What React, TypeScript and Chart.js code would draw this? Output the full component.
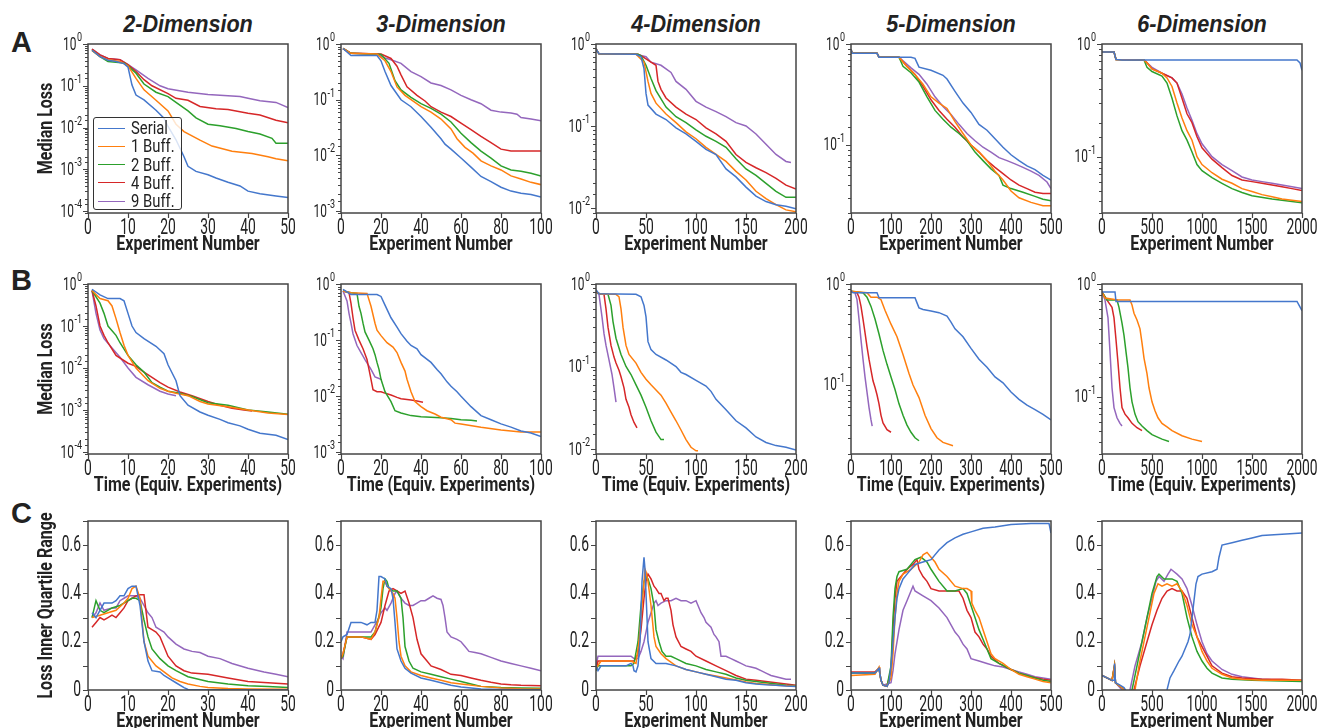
import React, { useEffect, useRef } from 'react';
import { Chart, registerables } from 'chart.js';
Chart.register(...registerables);

const BASE_FONT = "Roboto, 'Liberation Sans', 'DejaVu Sans', sans-serif";
const TITLE_FONT = "'Liberation Sans', Arial, sans-serif";

type Pt = [number, number];

const SERIES_LABELS = ['Serial', '1 Buff.', '2 Buff.', '4 Buff.', '9 Buff.'];
const SERIES_COLORS = ['#4477cc', '#ff7f0e', '#2ca02c', '#d62728', '#9467bd'];
const DIMENSIONS = ['2-Dimension', '3-Dimension', '4-Dimension', '5-Dimension', '6-Dimension'];
const ROW_LETTERS = ['A', 'B', 'C'];
const X_MAX = [50, 100, 200, 500, 2000];
const X_STEP = [10, 20, 50, 100, 500];
const LOG_MIN_A = [0.00009, 0.00093, 0.0087, 0.0212, 0.0316];
const LOG_MIN_B = [0.00009, 0.00093, 0.0087, 0.0207, 0.031];
const IQR_MAX = 0.7;
const IQR_STEP = 0.1;
const X_TITLES = ['Experiment Number', 'Time (Equiv. Experiments)', 'Experiment Number'];
const Y_TITLES = ['Median Loss', 'Median Loss', 'Loss Inner Quartile Range'];

// ---------- Row A: median loss vs experiment number ----------
const a1Serial: Pt[] = [[1,0.71],[3,0.5],[5,0.41],[7,0.38],[9,0.34],[10,0.28],[11,0.104],[12,0.06],[14,0.046],[17,0.026],[19,0.0167],[20,0.0106],[22,0.0051],[24,0.002],[25,0.00118],[27,0.00089],[30,0.00074],[32,0.00062],[35,0.00049],[38,0.0004],[40,0.0003],[43,0.00026],[47,0.00023],[50,0.00021]];
const a1Buff1: Pt[] = [[1,0.7],[3,0.5],[5,0.42],[8,0.38],[10,0.3],[12,0.15],[14,0.08],[17,0.045],[20,0.025],[22,0.012],[24,0.008],[28,0.005],[31,0.0036],[36,0.0027],[41,0.0024],[45,0.002],[47,0.0018],[50,0.0016]];
const a1Buff2: Pt[] = [[1,0.7],[3,0.5],[5,0.38],[9,0.35],[10,0.3],[12,0.2],[14,0.11],[17,0.07],[20,0.055],[22,0.04],[25,0.025],[27,0.017],[30,0.012],[33,0.011],[37,0.0095],[40,0.008],[43,0.007],[46,0.0055],[47,0.0042],[50,0.0042]];
const a1Buff4: Pt[] = [[1,0.75],[3,0.55],[5,0.45],[8,0.42],[10,0.32],[12,0.22],[14,0.14],[16,0.1],[20,0.065],[22,0.05],[25,0.045],[28,0.032],[32,0.028],[35,0.027],[40,0.022],[43,0.02],[47,0.015],[50,0.013]];
const a1Buff9: Pt[] = [[1,0.75],[3,0.55],[5,0.45],[8,0.42],[10,0.32],[12,0.24],[15,0.15],[18,0.1],[20,0.085],[25,0.07],[30,0.062],[35,0.058],[38,0.055],[40,0.05],[43,0.044],[47,0.04],[50,0.03]];

const a2Serial: Pt[] = [[1,0.83],[5,0.62],[18,0.62],[20,0.5],[22,0.32],[25,0.18],[30,0.1],[35,0.075],[40,0.05],[45,0.032],[50,0.02],[52,0.016],[55,0.013],[60,0.009],[65,0.0062],[70,0.0042],[75,0.0034],[80,0.0027],[85,0.0023],[90,0.0021],[95,0.002],[100,0.0018]];
const a2Buff1: Pt[] = [[1,0.83],[5,0.68],[18,0.66],[22,0.5],[25,0.32],[28,0.17],[32,0.12],[40,0.075],[45,0.06],[50,0.045],[55,0.03],[58,0.02],[62,0.014],[66,0.011],[70,0.008],[75,0.0065],[80,0.0055],[85,0.0043],[90,0.0038],[95,0.0033],[100,0.003]];
const a2Buff2: Pt[] = [[1,0.83],[5,0.68],[20,0.65],[24,0.45],[27,0.22],[30,0.15],[35,0.11],[40,0.085],[45,0.07],[50,0.055],[55,0.04],[60,0.025],[65,0.017],[70,0.012],[75,0.009],[80,0.0065],[85,0.0055],[90,0.0052],[95,0.0048],[100,0.0043]];
const a2Buff4: Pt[] = [[1,0.83],[5,0.68],[20,0.66],[25,0.55],[28,0.4],[30,0.28],[33,0.17],[38,0.12],[42,0.095],[45,0.075],[50,0.06],[55,0.05],[60,0.038],[65,0.029],[70,0.022],[75,0.017],[80,0.013],[85,0.012],[90,0.012],[100,0.012]];
const a2Buff9: Pt[] = [[1,0.83],[5,0.68],[18,0.66],[22,0.56],[25,0.52],[30,0.45],[35,0.32],[40,0.26],[45,0.2],[50,0.18],[55,0.15],[60,0.12],[65,0.1],[70,0.085],[75,0.065],[80,0.06],[85,0.058],[88,0.055],[90,0.048],[95,0.045],[100,0.042]];

const a3Serial: Pt[] = [[0,0.87],[3,0.76],[40,0.75],[45,0.7],[48,0.5],[50,0.25],[52,0.18],[60,0.14],[70,0.12],[80,0.095],[90,0.08],[100,0.065],[110,0.052],[120,0.045],[130,0.03],[140,0.024],[150,0.018],[160,0.014],[170,0.012],[180,0.011],[190,0.0105],[200,0.0098]];
const a3Buff1: Pt[] = [[0,0.87],[3,0.76],[40,0.75],[48,0.6],[52,0.35],[55,0.25],[60,0.19],[70,0.14],[80,0.11],[90,0.085],[100,0.07],[110,0.055],[120,0.045],[130,0.037],[140,0.028],[150,0.022],[160,0.016],[170,0.013],[180,0.011],[190,0.0095],[200,0.009]];
const a3Buff2: Pt[] = [[0,0.87],[3,0.76],[42,0.75],[45,0.72],[50,0.55],[55,0.38],[60,0.27],[70,0.17],[80,0.13],[90,0.11],[100,0.09],[110,0.075],[120,0.065],[130,0.055],[140,0.04],[150,0.03],[160,0.025],[170,0.02],[180,0.016],[190,0.0135],[200,0.0135]];
const a3Buff4: Pt[] = [[0,0.87],[3,0.76],[42,0.75],[45,0.72],[55,0.6],[60,0.55],[62,0.35],[65,0.28],[70,0.22],[80,0.17],[90,0.14],[100,0.12],[110,0.095],[120,0.08],[130,0.065],[140,0.045],[150,0.036],[160,0.031],[170,0.027],[180,0.023],[190,0.019],[200,0.017]];
const a3Buff9: Pt[] = [[0,0.87],[3,0.76],[40,0.75],[50,0.7],[55,0.6],[65,0.55],[75,0.45],[80,0.35],[90,0.28],[100,0.2],[110,0.17],[120,0.15],[130,0.13],[140,0.11],[150,0.1],[160,0.08],[170,0.06],[180,0.045],[190,0.037],[195,0.036]];

const a4Serial: Pt[] = [[0,0.88],[3,0.81],[65,0.81],[70,0.74],[150,0.74],[160,0.72],[170,0.59],[200,0.55],[230,0.49],[240,0.45],[260,0.34],[280,0.26],[300,0.21],[320,0.16],[340,0.14],[360,0.115],[380,0.095],[400,0.08],[420,0.07],[440,0.062],[460,0.057],[480,0.05],[500,0.045]];
const a4Buff1: Pt[] = [[0,0.88],[3,0.81],[65,0.81],[70,0.74],[120,0.74],[140,0.6],[160,0.5],[180,0.4],[200,0.3],[220,0.26],[240,0.23],[260,0.17],[280,0.13],[300,0.1],[320,0.085],[340,0.07],[360,0.055],[380,0.045],[400,0.035],[420,0.03],[450,0.027],[480,0.025],[500,0.025]];
const a4Buff2: Pt[] = [[0,0.88],[3,0.81],[65,0.81],[70,0.74],[120,0.74],[130,0.6],[150,0.52],[170,0.42],[190,0.3],[210,0.22],[230,0.18],[250,0.15],[270,0.13],[290,0.11],[310,0.085],[330,0.07],[350,0.058],[370,0.05],[380,0.04],[400,0.037],[430,0.034],[460,0.031],[480,0.029],[500,0.028]];
const a4Buff4: Pt[] = [[0,0.88],[3,0.81],[65,0.81],[70,0.74],[120,0.74],[140,0.6],[160,0.5],[180,0.38],[200,0.28],[220,0.22],[240,0.18],[260,0.15],[280,0.12],[300,0.1],[320,0.085],[340,0.07],[360,0.06],[380,0.052],[400,0.045],[420,0.04],[440,0.037],[460,0.034],[480,0.033],[500,0.033]];
const a4Buff9: Pt[] = [[0,0.88],[3,0.81],[65,0.81],[70,0.74],[120,0.74],[150,0.58],[170,0.5],[190,0.4],[210,0.3],[230,0.24],[250,0.2],[270,0.16],[290,0.13],[310,0.11],[330,0.095],[350,0.085],[370,0.075],[390,0.07],[410,0.065],[430,0.06],[450,0.055],[470,0.05],[490,0.043],[500,0.037]];

const a5Serial: Pt[] = [[0,0.85],[120,0.85],[140,0.73],[200,0.72],[1950,0.72],[1980,0.68],[2000,0.585]];
const a5Buff1: Pt[] = [[0,0.85],[120,0.85],[140,0.73],[420,0.72],[450,0.68],[500,0.6],[600,0.55],[650,0.5],[700,0.42],[750,0.3],[800,0.22],[850,0.17],[900,0.14],[950,0.1],[1000,0.085],[1100,0.072],[1200,0.063],[1300,0.058],[1400,0.052],[1500,0.049],[1600,0.046],[1700,0.044],[1800,0.042],[1900,0.041],[2000,0.04]];
const a5Buff2: Pt[] = [[0,0.85],[120,0.85],[140,0.73],[420,0.72],[450,0.62],[500,0.57],[600,0.52],[650,0.45],[700,0.33],[750,0.23],[800,0.17],[850,0.14],[900,0.11],[950,0.085],[1000,0.075],[1100,0.065],[1200,0.058],[1300,0.052],[1400,0.048],[1500,0.045],[1700,0.042],[2000,0.039]];
const a5Buff4: Pt[] = [[0,0.85],[120,0.85],[140,0.73],[420,0.72],[450,0.68],[500,0.6],[600,0.55],[700,0.5],[750,0.45],[800,0.33],[850,0.24],[900,0.2],[950,0.15],[1000,0.12],[1100,0.095],[1200,0.08],[1300,0.068],[1400,0.062],[1500,0.06],[1600,0.058],[1700,0.056],[1800,0.054],[1900,0.052],[2000,0.05]];
const a5Buff9: Pt[] = [[0,0.85],[120,0.85],[140,0.73],[420,0.72],[500,0.62],[600,0.55],[700,0.5],[750,0.45],[800,0.36],[850,0.27],[900,0.21],[950,0.16],[1000,0.13],[1100,0.1],[1200,0.085],[1300,0.075],[1400,0.066],[1500,0.062],[1600,0.06],[1700,0.058],[1800,0.056],[1900,0.054],[2000,0.052]];

// ---------- Row B: median loss vs time ----------
const b1Serial: Pt[] = [[1,0.75],[3,0.55],[5,0.45],[8,0.45],[9,0.4],[10,0.2],[11,0.1],[12,0.07],[14,0.05],[17,0.033],[19,0.022],[20,0.012],[22,0.005],[23,0.0022],[25,0.0013],[28,0.0009],[30,0.00075],[33,0.0006],[35,0.0005],[38,0.00042],[40,0.00035],[43,0.00028],[47,0.00025],[50,0.0002]];
const b1Buff1: Pt[] = [[1,0.7],[3,0.45],[5,0.4],[6,0.3],[7,0.15],[8,0.07],[9,0.035],[10,0.02],[12,0.01],[15,0.005],[18,0.0033],[20,0.0028],[22,0.0025],[25,0.0022],[28,0.0016],[30,0.0014],[35,0.0012],[40,0.001],[45,0.00085],[50,0.00078]];
const b1Buff2: Pt[] = [[1,0.7],[3,0.35],[4,0.2],[5,0.1],[7,0.06],[8,0.04],[10,0.02],[12,0.012],[14,0.008],[16,0.0045],[18,0.0035],[20,0.0028],[23,0.0025],[26,0.0021],[30,0.0015],[35,0.0013],[40,0.001],[45,0.0009],[50,0.0008]];
const b1Buff4: Pt[] = [[1,0.7],[2,0.3],[3,0.1],[4,0.06],[5,0.04],[7,0.02],[10,0.013],[12,0.011],[14,0.008],[16,0.006],[18,0.0045],[20,0.0035],[23,0.0027],[26,0.0022],[30,0.0016],[33,0.0013],[36,0.0011],[39,0.001],[41,0.00095]];
const b1Buff9: Pt[] = [[1,0.7],[2,0.2],[3,0.08],[4,0.05],[6,0.03],[8,0.018],[10,0.01],[12,0.006],[15,0.004],[18,0.0028],[20,0.0024],[22,0.0022]];

const b2Serial: Pt[] = [[1,0.8],[5,0.65],[18,0.65],[20,0.6],[22,0.42],[25,0.25],[28,0.17],[30,0.13],[33,0.095],[35,0.08],[38,0.07],[40,0.055],[45,0.04],[48,0.03],[50,0.025],[53,0.018],[55,0.015],[58,0.012],[60,0.01],[65,0.0065],[70,0.0045],[75,0.0038],[80,0.0032],[85,0.0028],[90,0.0024],[95,0.0022],[100,0.0019]];
const b2Buff1: Pt[] = [[1,0.75],[5,0.7],[13,0.68],[15,0.4],[17,0.2],[18,0.15],[20,0.12],[23,0.09],[26,0.075],[28,0.06],[30,0.04],[32,0.028],[33,0.02],[35,0.012],[37,0.008],[40,0.0065],[43,0.0055],[47,0.0048],[50,0.0042],[55,0.0038],[57,0.0033],[60,0.0032],[70,0.0028],[80,0.0025],[90,0.0023],[100,0.0023]];
const b2Buff2: Pt[] = [[1,0.75],[5,0.7],[8,0.68],[9,0.4],[10,0.3],[11,0.2],[12,0.14],[14,0.1],[16,0.07],[17,0.055],[18,0.04],[19,0.03],[20,0.02],[22,0.012],[25,0.008],[27,0.0055],[30,0.005],[35,0.0045],[40,0.0043],[50,0.0041],[55,0.004],[60,0.0038],[65,0.0037],[68,0.0036]];
const b2Buff4: Pt[] = [[1,0.75],[4,0.7],[5,0.45],[6,0.25],[7,0.15],[9,0.1],[11,0.07],[13,0.045],[14,0.03],[15,0.02],[16,0.013],[18,0.012],[20,0.012],[23,0.011],[25,0.0105],[28,0.0095],[30,0.009],[35,0.0085],[38,0.0082],[41,0.0078]];
const b2Buff9: Pt[] = [[1,0.75],[3,0.5],[4,0.3],[5,0.2],[6,0.13],[8,0.08],[10,0.06],[12,0.045],[15,0.03],[17,0.022],[20,0.02]];

const b3Serial: Pt[] = [[0,0.85],[3,0.76],[40,0.75],[45,0.7],[48,0.55],[50,0.4],[52,0.2],[55,0.16],[60,0.14],[70,0.12],[80,0.1],[85,0.085],[90,0.08],[100,0.068],[110,0.058],[115,0.05],[120,0.04],[130,0.03],[140,0.022],[150,0.018],[160,0.014],[170,0.012],[180,0.011],[190,0.0105],[200,0.0097]];
const b3Buff1: Pt[] = [[0,0.8],[5,0.75],[20,0.75],[23,0.7],[25,0.5],[27,0.3],[30,0.18],[33,0.14],[40,0.11],[45,0.085],[50,0.07],[55,0.06],[60,0.052],[65,0.045],[70,0.036],[75,0.028],[80,0.022],[85,0.017],[90,0.013],[95,0.0105],[100,0.0095],[102,0.0095]];
const b3Buff2: Pt[] = [[0,0.8],[5,0.75],[12,0.75],[15,0.55],[17,0.35],[20,0.22],[25,0.14],[30,0.1],[35,0.08],[40,0.06],[45,0.045],[50,0.032],[55,0.022],[60,0.016],[65,0.013],[68,0.013]];
const b3Buff4: Pt[] = [[0,0.8],[5,0.75],[8,0.75],[10,0.5],[12,0.3],[15,0.18],[18,0.13],[20,0.11],[23,0.09],[25,0.075],[28,0.055],[30,0.04],[33,0.032],[35,0.026],[38,0.021],[41,0.018]];
const b3Buff9: Pt[] = [[0,0.8],[3,0.75],[6,0.4],[8,0.25],[10,0.18],[13,0.12],[16,0.08],[18,0.055],[20,0.037]];

const b4Serial: Pt[] = [[0,0.85],[5,0.82],[65,0.82],[70,0.73],[160,0.73],[165,0.65],[170,0.58],[180,0.56],[200,0.54],[220,0.52],[240,0.48],[250,0.42],[260,0.36],[280,0.3],[300,0.23],[320,0.18],[340,0.15],[360,0.12],[380,0.105],[400,0.085],[420,0.072],[440,0.063],[460,0.057],[480,0.051],[500,0.045]];
const b4Buff1: Pt[] = [[0,0.85],[40,0.82],[50,0.74],[65,0.74],[75,0.7],[85,0.55],[100,0.4],[115,0.3],[130,0.2],[145,0.13],[155,0.1],[170,0.075],[185,0.05],[200,0.037],[215,0.03],[230,0.027],[255,0.025]];
const b4Buff2: Pt[] = [[0,0.85],[30,0.82],[40,0.74],[50,0.6],[60,0.45],[70,0.32],[80,0.22],[90,0.16],[100,0.12],[110,0.09],[120,0.065],[130,0.05],[140,0.04],[150,0.034],[160,0.03],[170,0.028]];
const b4Buff4: Pt[] = [[0,0.85],[15,0.82],[20,0.74],[25,0.6],[30,0.45],[35,0.33],[40,0.24],[45,0.18],[50,0.14],[55,0.11],[60,0.095],[65,0.08],[70,0.065],[75,0.05],[80,0.042],[90,0.036],[100,0.034]];
const b4Buff9: Pt[] = [[0,0.85],[10,0.82],[15,0.7],[20,0.45],[25,0.28],[30,0.18],[35,0.12],[40,0.085],[45,0.06],[50,0.045],[53,0.039]];

const b5Serial: Pt[] = [[0,0.85],[130,0.85],[140,0.7],[1950,0.7],[1970,0.65],[2000,0.58]];
const b5Buff1: Pt[] = [[0,0.85],[30,0.75],[160,0.72],[280,0.72],[300,0.65],[320,0.55],[350,0.48],[380,0.4],[400,0.3],[420,0.22],[450,0.16],[470,0.12],[500,0.09],[530,0.075],[560,0.065],[600,0.058],[650,0.054],[700,0.05],[800,0.045],[900,0.042],[1000,0.04]];
const b5Buff2: Pt[] = [[0,0.85],[50,0.72],[150,0.72],[170,0.62],[200,0.45],[220,0.35],[240,0.25],[260,0.18],[280,0.12],[300,0.09],[330,0.07],[360,0.06],[400,0.055],[450,0.05],[500,0.046],[600,0.042],[670,0.04]];
const b5Buff4: Pt[] = [[0,0.85],[50,0.72],[100,0.62],[120,0.5],[140,0.32],[160,0.2],[180,0.12],[200,0.08],[230,0.07],[260,0.065],[300,0.058],[350,0.053],[400,0.05]];
const b5Buff9: Pt[] = [[0,0.85],[30,0.72],[60,0.5],[80,0.25],[100,0.12],[120,0.08],[150,0.065],[180,0.058],[200,0.055]];

// ---------- Row C: loss inner quartile range ----------
const c1Serial: Pt[] = [[1,0.32],[2,0.3],[3,0.33],[4,0.36],[6,0.36],[7,0.37],[8,0.39],[9,0.39],[10,0.42],[11,0.43],[12,0.43],[13,0.35],[14,0.2],[15,0.12],[16,0.08],[18,0.075],[19,0.06],[20,0.05],[22,0.03],[24,0.01],[25,0.002],[30,0.001],[50,0]];
const c1Buff1: Pt[] = [[1,0.3],[3,0.31],[5,0.32],[7,0.33],[9,0.36],[10,0.38],[11,0.42],[12,0.43],[13,0.38],[14,0.2],[15,0.14],[17,0.1],[19,0.075],[21,0.05],[23,0.035],[25,0.025],[28,0.015],[30,0.01],[35,0.006],[40,0.004],[50,0.003]];
const c1Buff2: Pt[] = [[1,0.3],[2,0.37],[3,0.33],[4,0.32],[6,0.34],[8,0.35],[10,0.37],[11,0.38],[12,0.38],[13,0.37],[14,0.29],[15,0.22],[16,0.17],[18,0.13],[20,0.1],[22,0.08],[25,0.055],[30,0.035],[35,0.025],[40,0.018],[45,0.014],[50,0.01]];
const c1Buff4: Pt[] = [[1,0.26],[2,0.28],[3,0.3],[4,0.29],[5,0.3],[6,0.31],[7,0.3],[8,0.32],[9,0.34],[10,0.37],[11,0.38],[12,0.39],[13,0.395],[14,0.395],[15,0.26],[16,0.25],[17,0.24],[18,0.22],[19,0.18],[20,0.14],[22,0.1],[24,0.08],[26,0.07],[30,0.065],[35,0.05],[40,0.035],[45,0.03],[50,0.025]];
const c1Buff9: Pt[] = [[1,0.3],[2,0.32],[3,0.36],[4,0.33],[6,0.34],[7,0.34],[8,0.37],[9,0.38],[10,0.39],[12,0.39],[13,0.38],[14,0.35],[15,0.32],[16,0.3],[17,0.26],[18,0.25],[19,0.24],[20,0.22],[22,0.19],[24,0.17],[26,0.16],[28,0.155],[30,0.14],[33,0.13],[36,0.11],[40,0.09],[44,0.075],[47,0.065],[50,0.055]];

const c2Serial: Pt[] = [[0,0.2],[1,0.22],[3,0.23],[5,0.28],[10,0.28],[13,0.27],[15,0.28],[17,0.28],[18,0.33],[19,0.47],[20,0.47],[22,0.46],[23,0.43],[25,0.42],[26,0.38],[27,0.28],[28,0.17],[30,0.12],[32,0.09],[35,0.07],[40,0.05],[45,0.04],[50,0.03],[55,0.02],[60,0.012],[70,0.004],[80,0.002],[100,0.001]];
const c2Buff1: Pt[] = [[0,0.13],[1,0.15],[3,0.22],[5,0.22],[10,0.22],[15,0.21],[17,0.24],[19,0.3],[20,0.38],[21,0.45],[22,0.45],[23,0.43],[24,0.42],[25,0.41],[26,0.4],[27,0.38],[28,0.3],[29,0.2],[30,0.14],[32,0.1],[35,0.075],[40,0.06],[45,0.05],[50,0.04],[55,0.03],[60,0.025],[70,0.015],[80,0.008],[90,0.005],[100,0.004]];
const c2Buff2: Pt[] = [[0,0.13],[1,0.14],[3,0.22],[10,0.22],[15,0.22],[17,0.24],[20,0.34],[21,0.42],[22,0.46],[23,0.45],[24,0.42],[26,0.41],[28,0.41],[30,0.38],[31,0.3],[32,0.18],[34,0.12],[36,0.09],[40,0.075],[45,0.065],[50,0.055],[55,0.045],[60,0.035],[65,0.025],[70,0.015],[80,0.01],[90,0.008],[100,0.007]];
const c2Buff4: Pt[] = [[0,0.13],[1,0.15],[3,0.22],[10,0.22],[15,0.21],[17,0.23],[20,0.28],[22,0.35],[24,0.41],[26,0.42],[28,0.41],[30,0.4],[32,0.41],[34,0.36],[36,0.3],[38,0.21],[40,0.15],[43,0.12],[45,0.1],[50,0.085],[55,0.065],[60,0.06],[65,0.05],[70,0.04],[75,0.032],[80,0.025],[85,0.022],[90,0.02],[100,0.018]];
const c2Buff9: Pt[] = [[0,0.14],[1,0.13],[3,0.24],[10,0.24],[15,0.24],[17,0.27],[19,0.3],[20,0.32],[22,0.34],[23,0.33],[25,0.36],[27,0.4],[28,0.41],[30,0.38],[32,0.36],[34,0.35],[36,0.35],[38,0.36],[40,0.37],[42,0.37],[44,0.38],[46,0.39],[48,0.38],[50,0.375],[51,0.35],[52,0.3],[53,0.24],[55,0.22],[58,0.21],[60,0.2],[62,0.18],[64,0.16],[67,0.155],[70,0.15],[75,0.135],[80,0.12],[85,0.11],[90,0.1],[95,0.09],[100,0.08]];

const c3Serial: Pt[] = [[0,0.1],[2,0.08],[5,0.1],[10,0.1],[30,0.1],[35,0.11],[37,0.1],[38,0.08],[40,0.075],[42,0.1],[44,0.2],[46,0.45],[48,0.55],[49,0.5],[50,0.4],[52,0.2],[55,0.13],[60,0.11],[70,0.11],[80,0.1],[90,0.085],[100,0.075],[110,0.065],[120,0.055],[130,0.045],[140,0.04],[150,0.03],[160,0.025],[170,0.022],[180,0.02],[190,0.017],[200,0.015]];
const c3Buff1: Pt[] = [[0,0.09],[5,0.12],[35,0.12],[40,0.11],[43,0.2],[46,0.35],[49,0.5],[50,0.49],[52,0.45],[55,0.35],[58,0.22],[60,0.18],[65,0.15],[70,0.13],[80,0.1],[90,0.085],[100,0.075],[110,0.065],[120,0.058],[130,0.05],[140,0.042],[150,0.033],[160,0.027],[170,0.024],[180,0.02],[190,0.018],[200,0.016]];
const c3Buff2: Pt[] = [[0,0.08],[2,0.1],[5,0.1],[35,0.1],[38,0.11],[42,0.2],[45,0.35],[48,0.45],[50,0.47],[52,0.46],[55,0.42],[58,0.35],[60,0.25],[63,0.2],[66,0.16],[70,0.14],[75,0.14],[80,0.13],[90,0.11],[100,0.1],[110,0.085],[120,0.075],[130,0.065],[140,0.05],[150,0.04],[160,0.035],[170,0.03],[180,0.025],[190,0.02],[200,0.018]];
const c3Buff4: Pt[] = [[0,0.08],[2,0.12],[5,0.12],[35,0.12],[38,0.12],[42,0.15],[45,0.25],[48,0.38],[50,0.45],[52,0.48],[55,0.46],[58,0.43],[60,0.42],[63,0.4],[65,0.4],[68,0.37],[70,0.38],[72,0.38],[75,0.33],[77,0.27],[80,0.22],[85,0.18],[90,0.17],[95,0.16],[100,0.14],[110,0.12],[120,0.1],[130,0.08],[140,0.06],[150,0.045],[160,0.04],[170,0.035],[180,0.03],[190,0.025],[200,0.02]];
const c3Buff9: Pt[] = [[0,0.1],[2,0.14],[5,0.14],[35,0.14],[38,0.13],[42,0.13],[45,0.16],[48,0.2],[50,0.24],[52,0.28],[55,0.32],[58,0.36],[60,0.37],[62,0.35],[65,0.36],[70,0.37],[75,0.37],[80,0.38],[85,0.37],[90,0.37],[95,0.36],[100,0.37],[102,0.35],[105,0.32],[108,0.3],[110,0.28],[115,0.26],[118,0.23],[120,0.22],[123,0.2],[125,0.14],[130,0.14],[135,0.13],[140,0.12],[145,0.11],[150,0.1],[155,0.095],[160,0.09],[165,0.08],[170,0.07],[175,0.06],[180,0.055],[185,0.05],[190,0.045],[195,0.045]];

const c4Serial: Pt[] = [[0,0.07],[20,0.07],[40,0.07],[60,0.07],[65,0.08],[70,0.09],[72,0.07],[75,0.04],[80,0.02],[90,0.015],[95,0.03],[100,0.1],[105,0.2],[110,0.3],[115,0.38],[120,0.42],[130,0.46],[140,0.48],[150,0.5],[160,0.52],[180,0.53],[200,0.54],[220,0.58],[240,0.61],[260,0.63],[280,0.645],[300,0.655],[330,0.67],[360,0.675],[400,0.685],[450,0.69],[495,0.69],[500,0.65]];
const c4Buff1: Pt[] = [[0,0.06],[60,0.065],[65,0.08],[70,0.095],[72,0.07],[75,0.04],[80,0.02],[90,0.015],[100,0.05],[105,0.15],[110,0.3],[115,0.4],[120,0.45],[130,0.48],[150,0.5],[170,0.53],[180,0.56],[190,0.57],[200,0.55],[210,0.53],[220,0.5],[240,0.47],[260,0.43],[280,0.42],[290,0.42],[300,0.41],[302,0.36],[310,0.33],[320,0.3],[330,0.25],[340,0.2],[350,0.15],[360,0.13],[380,0.11],[400,0.085],[420,0.065],[440,0.055],[460,0.045],[480,0.035],[500,0.03]];
const c4Buff2: Pt[] = [[0,0.07],[60,0.07],[70,0.09],[75,0.04],[80,0.02],[90,0.015],[100,0.1],[105,0.3],[110,0.42],[115,0.47],[120,0.49],[140,0.5],[160,0.54],[175,0.55],[190,0.53],[200,0.5],[220,0.45],[240,0.41],[260,0.41],[280,0.42],[290,0.4],[300,0.35],[310,0.3],[320,0.25],[330,0.21],[340,0.17],[350,0.13],[370,0.11],[400,0.085],[420,0.07],[440,0.06],[460,0.05],[480,0.04],[500,0.035]];
const c4Buff4: Pt[] = [[0,0.075],[60,0.075],[70,0.09],[75,0.04],[80,0.02],[90,0.015],[100,0.08],[105,0.25],[110,0.38],[115,0.45],[125,0.47],[140,0.5],[155,0.52],[165,0.54],[170,0.5],[180,0.47],[190,0.45],[200,0.42],[220,0.41],[240,0.41],[260,0.41],[270,0.41],[280,0.38],[290,0.33],[300,0.3],[310,0.24],[320,0.22],[330,0.19],[340,0.17],[350,0.14],[370,0.11],[400,0.085],[420,0.07],[450,0.055],[480,0.045],[500,0.04]];
const c4Buff9: Pt[] = [[0,0.07],[60,0.07],[70,0.09],[75,0.04],[80,0.02],[100,0.03],[105,0.08],[110,0.15],[120,0.25],[130,0.33],[140,0.37],[150,0.41],[155,0.43],[160,0.41],[180,0.39],[200,0.37],[220,0.34],[240,0.3],[250,0.27],[260,0.24],[270,0.22],[280,0.19],[290,0.17],[300,0.13],[320,0.12],[340,0.11],[360,0.1],[380,0.095],[400,0.085],[420,0.075],[440,0.065],[460,0.055],[480,0.05],[500,0.045]];

const c5Serial: Pt[] = [[0,0.06],[50,0.05],[100,0.04],[120,0.04],[125,0.11],[135,0.03],[180,0.02],[220,0.01],[250,-0.01],[640,-0.01],[650,0],[680,0.05],[720,0.08],[770,0.12],[800,0.14],[830,0.17],[860,0.2],[880,0.23],[900,0.3],[920,0.37],[940,0.44],[960,0.47],[1000,0.48],[1100,0.49],[1150,0.5],[1170,0.55],[1200,0.6],[1300,0.61],[1400,0.62],[1500,0.63],[1600,0.64],[1800,0.645],[2000,0.65]];
const c5Buff1: Pt[] = [[0,0.06],[100,0.04],[125,0.1],[135,0.03],[200,0.01],[260,-0.01],[330,0],[370,0.1],[420,0.2],[470,0.3],[520,0.4],[560,0.44],[600,0.43],[650,0.44],[700,0.43],[750,0.44],[800,0.41],[850,0.35],[900,0.27],[950,0.22],[1000,0.16],[1050,0.12],[1100,0.09],[1200,0.065],[1300,0.05],[1400,0.045],[1600,0.04],[1800,0.04],[2000,0.04]];
const c5Buff2: Pt[] = [[0,0.06],[100,0.04],[125,0.1],[135,0.03],[200,0.01],[250,-0.01],[300,0],[350,0.1],[400,0.2],[450,0.3],[500,0.4],[550,0.47],[570,0.48],[620,0.46],[700,0.46],[750,0.45],[800,0.4],[850,0.3],[900,0.22],[950,0.16],[1000,0.12],[1050,0.09],[1100,0.07],[1200,0.05],[1300,0.045],[1500,0.04],[2000,0.035]];
const c5Buff4: Pt[] = [[0,0.06],[100,0.04],[125,0.1],[135,0.03],[200,0.01],[250,-0.01],[320,0],[380,0.1],[450,0.2],[500,0.27],[550,0.33],[600,0.38],[650,0.41],[700,0.42],[750,0.41],[800,0.41],[850,0.38],[900,0.3],[950,0.22],[1000,0.18],[1050,0.14],[1100,0.1],[1200,0.07],[1300,0.055],[1400,0.05],[1600,0.045],[1800,0.045],[2000,0.04]];
const c5Buff9: Pt[] = [[0,0.06],[100,0.04],[125,0.1],[135,0.03],[200,0],[260,-0.01],[280,0],[330,0.1],[400,0.2],[450,0.3],[500,0.38],[540,0.45],[570,0.47],[620,0.45],[660,0.48],[690,0.5],[750,0.48],[800,0.46],[850,0.42],[900,0.35],[950,0.27],[1000,0.2],[1050,0.15],[1100,0.12],[1200,0.085],[1300,0.065],[1400,0.055],[1600,0.045],[1800,0.04],[2000,0.04]];

const ROWS: Pt[][][][] = [
  [
    [a1Serial, a1Buff1, a1Buff2, a1Buff4, a1Buff9],
    [a2Serial, a2Buff1, a2Buff2, a2Buff4, a2Buff9],
    [a3Serial, a3Buff1, a3Buff2, a3Buff4, a3Buff9],
    [a4Serial, a4Buff1, a4Buff2, a4Buff4, a4Buff9],
    [a5Serial, a5Buff1, a5Buff2, a5Buff4, a5Buff9],
  ],
  [
    [b1Serial, b1Buff1, b1Buff2, b1Buff4, b1Buff9],
    [b2Serial, b2Buff1, b2Buff2, b2Buff4, b2Buff9],
    [b3Serial, b3Buff1, b3Buff2, b3Buff4, b3Buff9],
    [b4Serial, b4Buff1, b4Buff2, b4Buff4, b4Buff9],
    [b5Serial, b5Buff1, b5Buff2, b5Buff4, b5Buff9],
  ],
  [
    [c1Serial, c1Buff1, c1Buff2, c1Buff4, c1Buff9],
    [c2Serial, c2Buff1, c2Buff2, c2Buff4, c2Buff9],
    [c3Serial, c3Buff1, c3Buff2, c3Buff4, c3Buff9],
    [c4Serial, c4Buff1, c4Buff2, c4Buff4, c4Buff9],
    [c5Serial, c5Buff1, c5Buff2, c5Buff4, c5Buff9],
  ],
];

// ---------- layout & styling ----------
const PLOT_LEFT = [88, 341, 596, 851, 1102];
const PLOT_TOP = [44, 284, 521];
const PLOT_H = [169, 170, 169];
const PLOT_W = 200;
const AX_W = 60;
const AX_H = 45;
const PAD_R = 26;
const PAD_T = 12;
const INK = '#222';
const FRAME = '#444';
// condensed look: draw with a horizontal squeeze
const TICK_SIZE = 22;
const TICK_SX = 0.63;
const LOG_SIZE = 18;
const EXP_SIZE = 12;
const LOG_SX = 0.66;
const AXT_SIZE = 20;
const AXT_SX = 0.8;

const isPow10 = (v: number) => {
  const e = Math.log10(v);
  return Math.abs(e - Math.round(e)) < 1e-6;
};

function squeezedText(
  ctx: CanvasRenderingContext2D,
  text: string,
  x: number,
  y: number,
  font: string,
  sx: number,
  align: CanvasTextAlign,
  rotate = false,
) {
  ctx.save();
  ctx.translate(x, y);
  if (rotate) ctx.rotate(-Math.PI / 2);
  ctx.scale(sx, 1);
  ctx.font = font;
  ctx.textAlign = align;
  ctx.textBaseline = 'middle';
  ctx.fillText(text, 0, 0);
  ctx.restore();
}

const axesPlugin = {
  id: 'axesText',
  afterDraw(chart: any) {
    const { ctx, chartArea: a, scales } = chart;
    const xs = scales.x;
    const ys = scales.y;
    const isLog = ys.type === 'logarithmic';
    const meta = chart.options.plugins.axesText || {};
    ctx.save();
    // tick marks
    ctx.strokeStyle = FRAME;
    ctx.lineWidth = 1.2;
    ctx.beginPath();
    for (const t of xs.ticks) {
      const px = Math.round(xs.getPixelForValue(t.value)) + 0.5;
      ctx.moveTo(px, a.bottom);
      ctx.lineTo(px, a.bottom + 5);
    }
    for (const t of ys.ticks) {
      const py = Math.round(ys.getPixelForValue(t.value)) + 0.5;
      const len = isLog ? (isPow10(t.value) ? 5 : 3) : 5;
      ctx.moveTo(a.left, py);
      ctx.lineTo(a.left - len, py);
    }
    ctx.stroke();
    // frame
    ctx.lineWidth = 1.5;
    ctx.strokeRect(a.left, a.top, a.right - a.left, a.bottom - a.top);
    ctx.fillStyle = INK;
    // x tick labels
    for (const t of xs.ticks) {
      squeezedText(ctx, String(t.value), xs.getPixelForValue(t.value), a.bottom + 15, `${TICK_SIZE}px ${BASE_FONT}`, TICK_SX, 'center');
    }
    // y tick labels
    if (isLog) {
      for (const t of ys.ticks) {
        if (!isPow10(t.value)) continue;
        const e = Math.round(Math.log10(t.value));
        const py = ys.getPixelForValue(t.value);
        const xr = a.left - 6;
        ctx.font = `${EXP_SIZE}px ${BASE_FONT}`;
        const expStr = String(e);
        const ew = ctx.measureText(expStr).width * 0.75;
        squeezedText(ctx, expStr, xr, py - 6, `${EXP_SIZE}px ${BASE_FONT}`, 0.75, 'right');
        squeezedText(ctx, '10', xr - ew - 0.5, py + 1, `${LOG_SIZE}px ${BASE_FONT}`, LOG_SX, 'right');
      }
    } else {
      for (const t of ys.ticks) {
        const k = Math.round(t.value * 10);
        if (k % 2 !== 0) continue;
        const lab = k === 0 ? '0' : (k / 10).toFixed(1);
        squeezedText(ctx, lab, a.left - 7, ys.getPixelForValue(t.value), `${TICK_SIZE}px ${BASE_FONT}`, TICK_SX, 'right');
      }
    }
    // axis titles
    const cx = (a.left + a.right) / 2;
    const cy = (a.top + a.bottom) / 2;
    squeezedText(ctx, meta.xTitle, cx, a.bottom + 31.5, `bold ${AXT_SIZE}px ${BASE_FONT}`, AXT_SX, 'center');
    if (meta.yTitle) {
      squeezedText(ctx, meta.yTitle, a.left - 41, cy, `bold ${AXT_SIZE}px ${BASE_FONT}`, AXT_SX, 'center', true);
    }
    ctx.restore();
  },
};

function Panel({ row, col }: { row: number; col: number }) {
  const ref = useRef<HTMLCanvasElement>(null);
  const width = AX_W + PLOT_W + PAD_R;
  const height = PAD_T + PLOT_H[row] + AX_H;
  useEffect(() => {
    const isLog = row < 2;
    const series = ROWS[row][col];
    const yScale: any = isLog
      ? {
          type: 'logarithmic',
          min: row === 0 ? LOG_MIN_A[col] : LOG_MIN_B[col],
          max: 1,
          grid: { display: false },
          border: { display: false },
          ticks: { autoSkip: false, display: false },
        }
      : {
          type: 'linear',
          min: 0,
          max: IQR_MAX,
          grid: { display: false },
          border: { display: false },
          ticks: { stepSize: IQR_STEP, autoSkip: false, display: false },
        };
    yScale.afterFit = (s: any) => {
      s.width = AX_W;
    };
    const chart = new Chart(ref.current!, {
      type: 'line',
      data: {
        datasets: series.map((pts, i) => ({
          label: SERIES_LABELS[i],
          data: pts.map(([x, y]) => ({ x, y })),
          borderColor: SERIES_COLORS[i],
          backgroundColor: SERIES_COLORS[i],
          borderWidth: 1.5,
          pointRadius: 0,
          fill: false,
          tension: 0,
        })),
      },
      options: {
        animation: false,
        responsive: false,
        maintainAspectRatio: false,
        layout: { padding: { left: 0, right: PAD_R, top: PAD_T, bottom: 0 } },
        plugins: {
          legend: { display: false },
          tooltip: { enabled: false },
          axesText: { xTitle: X_TITLES[row], yTitle: col === 0 ? Y_TITLES[row] : '' },
        } as any,
        scales: {
          x: {
            type: 'linear',
            min: 0,
            max: X_MAX[col],
            grid: { display: false },
            border: { display: false },
            ticks: { stepSize: X_STEP[col], autoSkip: false, display: false },
            afterFit: (s: any) => {
              s.height = AX_H;
            },
          } as any,
          y: yScale,
        },
      },
      plugins: [axesPlugin],
    });
    return () => chart.destroy();
  }, [row, col]);
  return (
    <canvas
      ref={ref}
      width={width}
      height={height}
      style={{
        position: 'absolute',
        left: PLOT_LEFT[col] - AX_W,
        top: PLOT_TOP[row] - PAD_T,
        width,
        height,
      }}
    />
  );
}

function Legend() {
  return (
    <div
      style={{
        position: 'absolute',
        left: 93,
        top: 117,
        width: 89,
        height: 93,
        border: '1.5px solid #333',
        borderRadius: 3,
        background: 'rgba(255,255,255,0.8)',
        boxSizing: 'border-box',
      }}
    >
      {SERIES_LABELS.map((lab, i) => (
        <div key={lab} style={{ position: 'absolute', left: 0, top: 1 + i * 18.3, height: 18, width: '100%' }}>
          <div
            style={{
              position: 'absolute',
              left: 4,
              top: 8.5,
              width: 27,
              height: 0,
              borderTop: `1.5px solid ${SERIES_COLORS[i]}`,
            }}
          />
          <div
            style={{
              position: 'absolute',
              left: 37,
              top: 0,
              lineHeight: '18px',
              fontFamily: BASE_FONT,
              fontSize: 19,
              color: INK,
              whiteSpace: 'nowrap',
              transform: 'scaleX(0.78)',
              transformOrigin: 'left center',
            }}
          >
            {lab}
          </div>
        </div>
      ))}
    </div>
  );
}

export default function App() {
  return (
    <div
      style={{
        position: 'fixed',
        left: 0,
        top: 0,
        width: 1317,
        height: 728,
        background: '#fff',
        overflow: 'hidden',
      }}
    >
      {DIMENSIONS.map((d, c) => (
        <div
          key={d}
          style={{
            position: 'absolute',
            left: PLOT_LEFT[c] - 20,
            top: 9,
            width: PLOT_W + 40,
            textAlign: 'center',
            fontFamily: TITLE_FONT,
            fontWeight: 'bold',
            fontStyle: 'italic',
            fontSize: 24,
            lineHeight: '30px',
            color: INK,
            transform: 'scaleX(0.9)',
            transformOrigin: 'center center',
          }}
        >
          {d}
        </div>
      ))}
      {ROW_LETTERS.map((l, r) => (
        <div
          key={l}
          style={{
            position: 'absolute',
            left: 11,
            top: [25, 263, 496][r],
            fontFamily: TITLE_FONT,
            fontWeight: 'bold',
            fontSize: 29,
            lineHeight: '34px',
            color: INK,
          }}
        >
          {l}
        </div>
      ))}
      {[0, 1, 2].map((r) => [0, 1, 2, 3, 4].map((c) => <Panel key={`${r}-${c}`} row={r} col={c} />))}
      <Legend />
    </div>
  );
}
